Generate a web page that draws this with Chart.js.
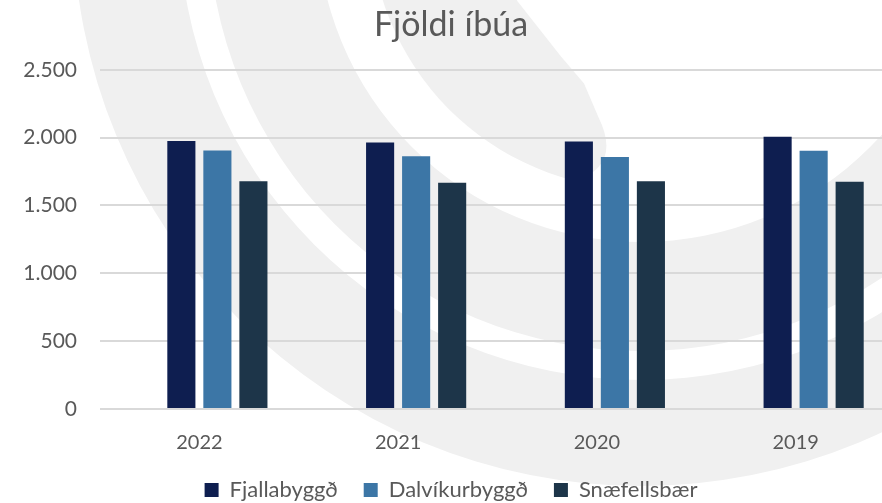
<!DOCTYPE html>
<html>
<head>
<meta charset="utf-8">
<script src="https://cdn.jsdelivr.net/npm/chart.js@4.4.1/dist/chart.umd.min.js"></script>
<style>
  html, body { margin: 0; padding: 0; background: #fff; overflow: hidden; }
  #wrap { width: 882px; height: 503px; overflow: hidden; position: relative; }
  #chart { position: absolute; left: 0; top: 0; }
</style>
</head>
<body>
<div id="wrap"><canvas id="chart" width="895" height="511"></canvas></div>
<script>
// data
const years = ['2022', '2021', '2020', '2019'];
const fjallabyggd = [1975, 1964, 1971, 2006];
const dalvikurbyggd = [1906, 1862, 1857, 1904];
const snaefellsbaer = [1679, 1667, 1679, 1674];
const emptySeries = [null, null, null, null]; // blank first series, it still takes a slot
const yTicks = [0, 500, 1000, 1500, 2000, 2500];

const textColor = '#595959';
const fontFamily = 'Lato, "Open Sans", sans-serif';

// 2.500 style thousands separator
function fmt(v) {
    return String(v).replace(/\B(?=(\d{3})+(?!\d))/g, '.');
}

// light grey logo rings behind the chart (background picture)
const watermark = {
    id: 'watermark',
    beforeDraw(chart) {
        const ctx = chart.ctx;
        const cx = 641, cy = -82;
        const deg = Math.PI / 180;
        const pt = (a, r) => [cx + r * Math.cos(a * deg), cy + r * Math.sin(a * deg)];
        ctx.save();
        ctx.fillStyle = '#ffffff';
        ctx.fillRect(0, 0, chart.width, chart.height);
        ctx.fillStyle = '#f0f0f0';

        const ring = (r1, r2) => {
            ctx.beginPath();
            ctx.arc(cx, cy, r2, 0, Math.PI * 2);
            ctx.arc(cx, cy, r1, 0, Math.PI * 2, true);
            ctx.fill();
        };
        ring(462, 568);
        ring(324, 433);

        // inner hook: outer edge is a circle, inner edge spirals out to a tip
        ctx.beginPath();
        ctx.arc(cx, cy, 271, 200 * deg, 104 * deg, true);
        const tip = pt(102, 204);
        ctx.quadraticCurveTo(622, 165, tip[0], tip[1]);
        const inner = [[109, 175], [120, 160], [146, 149], [170, 150], [200, 150]];
        inner.forEach(([a, r]) => {
            const p = pt(a, r);
            ctx.lineTo(p[0], p[1]);
        });
        ctx.closePath();
        ctx.fill();
        ctx.restore();
    }
};

const ctx = document.getElementById('chart').getContext('2d');
new Chart(ctx, {
    type: 'bar',
    data: {
        labels: years,
        datasets: [{
            label: '',
            data: emptySeries,
            backgroundColor: 'rgba(0,0,0,0)'
        }, {
            label: 'Fjallabyggð',
            data: fjallabyggd,
            backgroundColor: '#0e1e50'
        }, {
            label: 'Dalvíkurbyggð',
            data: dalvikurbyggd,
            backgroundColor: '#3c76a6'
        }, {
            label: 'Snæfellsbær',
            data: snaefellsbaer,
            backgroundColor: '#1d3549'
        }]
    },
    options: {
        responsive: false,
        animation: false,
        categoryPercentage: 0.725,
        barPercentage: 0.78,
        layout: {
            padding: { left: 7, right: 0, top: 0, bottom: 0 }
        },
        scales: {
            x: {
                grid: { display: false },
                border: { display: false },
                ticks: {
                    color: textColor,
                    font: { family: fontFamily, size: 20 },
                    padding: 14
                },
                afterFit: (s) => { s.height = 44; }
            },
            y: {
                min: yTicks[0],
                max: yTicks[yTicks.length - 1],
                grid: {
                    color: '#d9d9d9',
                    lineWidth: 2,
                    drawTicks: false
                },
                border: { display: false },
                ticks: {
                    stepSize: yTicks[1] - yTicks[0],
                    color: textColor,
                    font: { family: fontFamily, size: 21 },
                    padding: 23,
                    callback: (v) => fmt(v)
                },
                afterFit: (s) => { s.width = 93; }
            }
        },
        plugins: {
            title: {
                display: true,
                text: 'Fjöldi íbúa',
                color: textColor,
                font: { family: fontFamily, size: 34, weight: 'normal' },
                padding: { top: 5, bottom: 24 }
            },
            legend: {
                position: 'bottom',
                labels: {
                    color: textColor,
                    font: { family: fontFamily, size: 22 },
                    boxWidth: 14,
                    boxHeight: 14,
                    padding: 26,
                    filter: (item) => item.text !== ''
                }
            },
            tooltip: { enabled: false }
        }
    },
    plugins: [watermark]
});
</script>
</body>
</html>
